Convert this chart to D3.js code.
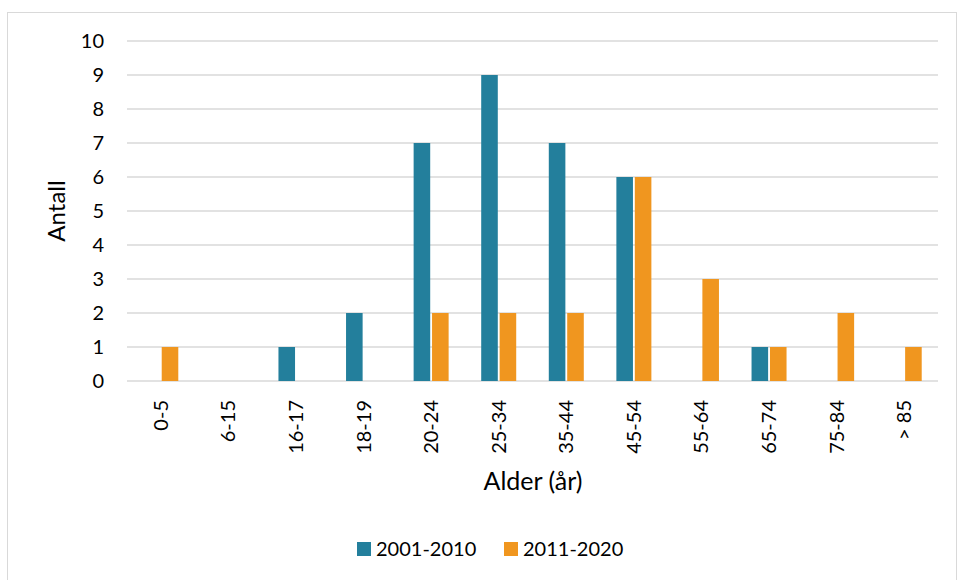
<!DOCTYPE html>
<html>
<head>
<meta charset="utf-8">
<script src="https://cdn.jsdelivr.net/npm/d3@7"></script>
<style>
  body { margin: 0; background: #fff; }
  svg { display: block; }
</style>
</head>
<body>
<div id="chart"></div>
<script>
(function () {
  var ageGroups = ['0-5', '6-15', '16-17', '18-19', '20-24', '25-34', '35-44', '45-54', '55-64', '65-74', '75-84', '> 85']
  var series1 = [0, 0, 1, 2, 7, 9, 7, 6, 0, 1, 0, 0]   // 2001-2010
  var series2 = [1, 0, 0, 0, 2, 2, 2, 6, 3, 1, 2, 1]   // 2011-2020
  var seriesNames = ['2001-2010', '2011-2020']
  var yTicks = [0, 1, 2, 3, 4, 5, 6, 7, 8, 9, 10]

  var colors = ['#237f9c', '#f0961f']
  var font = 'Lato, "Open Sans", sans-serif'

  var width = 957, height = 580
  var left = 127, right = 938, top = 41, bottom = 381

  var svg = d3.select('#chart').append('svg')
    .attr('width', width)
    .attr('height', height)

  // chart border
  svg.append('rect')
    .attr('x', 7.5).attr('y', 12.5)
    .attr('width', width - 8).attr('height', height - 12)
    .attr('fill', '#fff')
    .attr('stroke', '#d9d9d9')

  var x = d3.scaleBand().domain(ageGroups).range([left, right])
  var x1 = d3.scaleBand().domain([0, 1]).range([-17.5, 17.5]).paddingInner(0.1)
  var y = d3.scaleLinear().domain([0, 10]).range([bottom, top])

  // gridlines
  svg.append('g').selectAll('line')
    .data(yTicks)
    .enter().append('line')
      .attr('x1', left).attr('x2', right)
      .attr('y1', function (d) { return y(d) })
      .attr('y2', function (d) { return y(d) })
      .attr('stroke', '#d9d9d9')
      .attr('stroke-width', 1.5)

  // y axis labels
  var yAxis = d3.axisLeft(y).tickValues(yTicks).tickSize(0).tickPadding(0)
  var ya = svg.append('g').attr('transform', 'translate(104,0)').call(yAxis)
  ya.select('.domain').remove()
  ya.selectAll('text')
    .attr('font-family', font)
    .attr('font-size', '20px')
    .attr('fill', '#000')

  // bars
  var data = [series1, series2]
  data.forEach(function (vals, s) {
    svg.append('g').selectAll('rect')
      .data(vals)
      .enter().append('rect')
        .attr('x', function (d, i) { return x(ageGroups[i]) + x.bandwidth() / 2 + x1(s) })
        .attr('width', x1.bandwidth())
        .attr('y', function (d) { return y(d) })
        .attr('height', function (d) { return bottom - y(d) })
        .attr('fill', colors[s])
        .attr('display', function (d) { return d > 0 ? null : 'none' })
  })

  // x axis labels (rotated)
  var xAxis = d3.axisBottom(x).tickSize(0).tickPadding(0)
  var xa = svg.append('g').attr('transform', 'translate(0,' + bottom + ')').call(xAxis)
  xa.select('.domain').remove()
  xa.selectAll('text')
    .attr('font-family', font)
    .attr('font-size', '20px')
    .attr('fill', '#000')
    .attr('text-anchor', 'end')
    .attr('dy', '0.35em')
    .attr('transform', 'translate(0,19) rotate(-90)')
    .attr('x', 0).attr('y', 0)

  // axis titles
  svg.append('text')
    .attr('transform', 'translate(65,211) rotate(-90)')
    .attr('text-anchor', 'middle')
    .attr('font-family', font)
    .attr('font-size', '24px')
    .text('Antall')

  svg.append('text')
    .attr('x', 533).attr('y', 490)
    .attr('text-anchor', 'middle')
    .attr('font-family', font)
    .attr('font-size', '25px')
    .text('Alder (år)')

  // legend
  var legendX = [357, 504]
  seriesNames.forEach(function (name, s) {
    var g = svg.append('g').attr('transform', 'translate(' + legendX[s] + ',549)')
    g.append('rect')
      .attr('x', 0).attr('y', -7)
      .attr('width', 14).attr('height', 14)
      .attr('fill', colors[s])
    g.append('text')
      .attr('x', 19).attr('y', 0)
      .attr('dy', '0.35em')
      .attr('font-family', font)
      .attr('font-size', '20px')
      .text(name)
  })
})()
</script>
</body>
</html>
